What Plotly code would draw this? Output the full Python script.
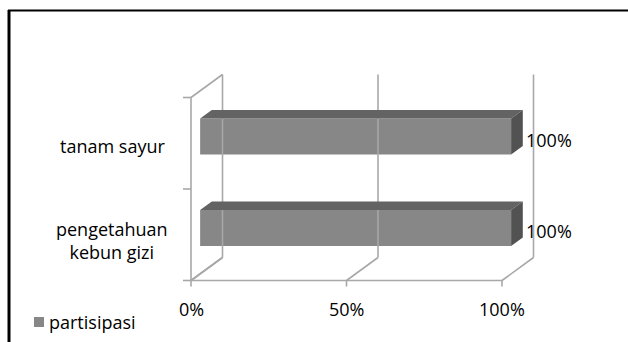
import plotly.graph_objects as go

# ---- data ----
categories = ["pengetahuan<br>kebun gizi", "tanam sayur"]
values = [100, 100]
value_labels = ["100%", "100%"]
x_ticks = [0, 50, 100]
x_tick_labels = ["0%", "50%", "100%"]
series_name = "partisipasi"

# ---- pixel mapping of the 3D-like frame (style constants) ----
W, H = 628, 342
X0_PX, PX_PER_UNIT = 191.0, 3.11          # front 0% position and scale
Y0_PX, PX_PER_CAT = 234.75, 91.5          # centre of first category
x_range = [-X0_PX / PX_PER_UNIT, (W - X0_PX) / PX_PER_UNIT]
y_range = [(Y0_PX - H) / PX_PER_CAT, Y0_PX / PX_PER_CAT]

DX = 31.5 / PX_PER_UNIT      # wall depth (x units)
DY = 23.0 / PX_PER_CAT       # wall depth (y units)
Z0, Z1 = 0.29, 0.66          # bar depth fractions
BAR_H = 36.0 / PX_PER_CAT

FRONT = "#878787"
TOP = "#636363"
SIDE = "#525252"
GRID = "#a8a8a8"
FONT = "Open Sans"
TXT = "#000000"

n = len(categories)
ylo, yhi = -0.5, n - 0.5
xmax = max(x_ticks)

fig = go.Figure()

# walls / gridlines / floor
gx, gy = [], []
gx += [0, 0, None]; gy += [ylo, yhi, None]
gx += [0, DX, None]; gy += [yhi, yhi + DY, None]
gx += [0, DX, None]; gy += [ylo, ylo + DY, None]
gx += [0, xmax, None]; gy += [ylo, ylo, None]
for t in x_ticks:
    gx += [t, t + DX, None]; gy += [ylo, ylo + DY, None]
    gx += [t + DX, t + DX, None]; gy += [ylo + DY, yhi + DY, None]
tick_l = 8.0 / PX_PER_UNIT
for k in range(n + 1):
    yy = ylo + k
    gx += [-tick_l, 0, None]; gy += [yy, yy, None]
tick_b = 6.0 / PX_PER_CAT
for t in x_ticks:
    gx += [t, t, None]; gy += [ylo, ylo - tick_b, None]

fig.add_trace(go.Scatter(x=gx, y=gy, mode="lines",
                         line=dict(color=GRID, width=1.6),
                         hoverinfo="skip", showlegend=False))

# bars: front faces
fx, fy = Z0 * DX, Z0 * DY
ddx, ddy = (Z1 - Z0) * DX, (Z1 - Z0) * DY
ypos = [i + fy for i in range(n)]
fig.add_trace(go.Bar(y=ypos, x=values, base=[fx] * n, orientation="h",
                     width=BAR_H, marker=dict(color=FRONT, line=dict(width=0)),
                     name=series_name, showlegend=False))

# top & side faces
tx, ty, sx, sy = [], [], [], []
for i, v in enumerate(values):
    yc = ypos[i]
    yt, yb = yc + BAR_H / 2, yc - BAR_H / 2
    x0, x1 = fx, fx + v
    tx += [x0, x1, x1 + ddx, x0 + ddx, x0, None]
    ty += [yt, yt, yt + ddy, yt + ddy, yt, None]
    sx += [x1, x1, x1 + ddx, x1 + ddx, x1, None]
    sy += [yb, yt, yt + ddy, yb + ddy, yb, None]
fig.add_trace(go.Scatter(x=tx, y=ty, fill="toself", fillcolor=TOP, mode="lines",
                         line=dict(width=0, color=TOP), hoverinfo="skip", showlegend=False))
fig.add_trace(go.Scatter(x=sx, y=sy, fill="toself", fillcolor=SIDE, mode="lines",
                         line=dict(width=0, color=SIDE), hoverinfo="skip", showlegend=False))

annotations = []
# data labels
for i, (v, lab) in enumerate(zip(values, value_labels)):
    annotations.append(dict(x=fx + v + ddx, y=ypos[i], xref="x", yref="y", text=lab,
                            showarrow=False, xanchor="left", yanchor="middle",
                            xshift=1, yshift=-3,
                            font=dict(family=FONT, size=18, color=TXT)))
# category labels
cat_x = (112 - X0_PX) / PX_PER_UNIT
for i, c in enumerate(categories):
    annotations.append(dict(x=cat_x, y=i, xref="x", yref="y", text=c,
                            showarrow=False, xanchor="center", yanchor="middle",
                            yshift=-3 if i else -6,
                            font=dict(family=FONT, size=18, color=TXT)))
# x tick labels
tick_y = (Y0_PX - 309) / PX_PER_CAT
for t, lab in zip(x_ticks, x_tick_labels):
    annotations.append(dict(x=t, y=tick_y, xref="x", yref="y", text=lab,
                            showarrow=False, xanchor="center", yanchor="middle",
                            font=dict(family=FONT, size=18, color=TXT)))
# legend text
annotations.append(dict(x=47 / W, y=1 - 322 / H, xref="paper", yref="paper",
                        text=series_name, showarrow=False, xanchor="left",
                        yanchor="middle", font=dict(family=FONT, size=18, color=TXT)))

shapes = [
    dict(type="rect", xref="paper", yref="paper", x0=34 / W, x1=44 / W,
         y0=1 - 327 / H, y1=1 - 317 / H, fillcolor=FRONT, line=dict(width=0)),
    dict(type="line", xref="paper", yref="paper", x0=9 / W, x1=9 / W,
         y0=0, y1=1 - 10 / H, line=dict(color="black", width=3)),
    dict(type="line", xref="paper", yref="paper", x0=8 / W, x1=1,
         y0=1 - 10.5 / H, y1=1 - 10.5 / H, line=dict(color="black", width=2)),
]

fig.update_layout(
    width=W, height=H, margin=dict(l=0, r=0, t=0, b=0),
    paper_bgcolor="white", plot_bgcolor="white",
    xaxis=dict(range=x_range, visible=False, fixedrange=True),
    yaxis=dict(range=y_range, visible=False, fixedrange=True),
    annotations=annotations, shapes=shapes, showlegend=False,
    font=dict(family=FONT),
)

fig.write_html("out.html")
